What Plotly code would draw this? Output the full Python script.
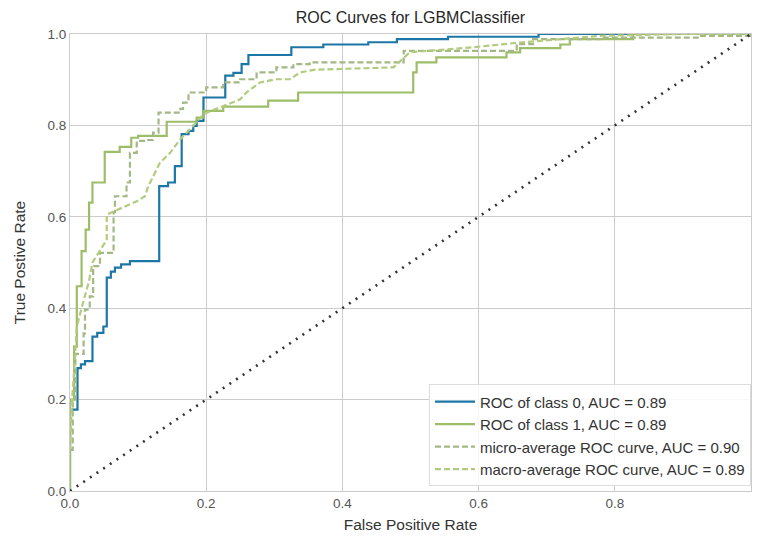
import plotly.graph_objects as go

# ---- data ----
class0_fpr = [0, 0, 0.011, 0.016, 0.022, 0.033, 0.040, 0.049, 0.054, 0.060, 0.066, 0.075, 0.088,
              0.131, 0.144, 0.154, 0.164, 0.174, 0.181, 0.186, 0.196, 0.228, 0.240, 0.252, 0.262,
              0.325, 0.372, 0.438, 0.480, 0.555, 0.688, 1.0]
class0_tpr = [0, 0.178, 0.269, 0.277, 0.284, 0.338, 0.346, 0.360, 0.467, 0.480, 0.489, 0.496, 0.503,
              0.667, 0.675, 0.711, 0.781, 0.788, 0.799, 0.810, 0.861, 0.909, 0.915, 0.934, 0.954,
              0.971, 0.977, 0.982, 0.989, 0.994, 1.0, 1.0]

class1_fpr = [0, 0, 0.006, 0.010, 0.017, 0.023, 0.028, 0.033, 0.051, 0.073, 0.090, 0.100, 0.142,
              0.186, 0.196, 0.225, 0.291, 0.335, 0.504, 0.509, 0.538, 0.641, 0.661, 0.720, 0.734,
              0.827, 1.0]
class1_tpr = [0, 0.200, 0.316, 0.448, 0.525, 0.572, 0.631, 0.675, 0.742, 0.753, 0.773, 0.777, 0.808,
              0.817, 0.832, 0.841, 0.854, 0.872, 0.916, 0.938, 0.949, 0.960, 0.969, 0.977, 0.989,
              1.0, 1.0]

micro_fpr = [0, 0.004, 0.008, 0.020, 0.022, 0.029, 0.034, 0.044, 0.064, 0.064, 0.066, 0.083, 0.088,
             0.088, 0.098, 0.113, 0.122, 0.130, 0.162, 0.166, 0.174, 0.200, 0.225, 0.250, 0.274,
             0.303, 0.328, 0.352, 0.480, 0.490, 0.656, 0.680, 0.780, 0.925, 1.0]
micro_tpr = [0.09, 0.20, 0.30, 0.345, 0.397, 0.426, 0.492, 0.521, 0.525, 0.610, 0.645, 0.675, 0.682,
             0.740, 0.766, 0.768, 0.784, 0.828, 0.836, 0.850, 0.872, 0.883, 0.894, 0.901, 0.916,
             0.927, 0.934, 0.938, 0.938, 0.963, 0.978, 0.989, 0.992, 0.996, 1.0]

macro_fpr = [0, 0.003, 0.006, 0.010, 0.017, 0.023, 0.028, 0.033, 0.045, 0.054, 0.054, 0.075, 0.098,
             0.110, 0.115, 0.132, 0.147, 0.162, 0.171, 0.181, 0.196, 0.215, 0.230, 0.250, 0.259,
             0.279, 0.303, 0.323, 0.338, 0.360, 0.475, 0.499, 0.592, 0.665, 0.724, 0.778, 0.900, 1.0]
macro_tpr = [0.09, 0.20, 0.26, 0.36, 0.40, 0.43, 0.46, 0.50, 0.53, 0.55, 0.605, 0.618, 0.634,
             0.645, 0.667, 0.718, 0.740, 0.770, 0.784, 0.799, 0.825, 0.836, 0.846, 0.857, 0.872,
             0.894, 0.901, 0.901, 0.916, 0.922, 0.927, 0.960, 0.971, 0.982, 0.989, 0.996, 1.0, 1.0]

diag = [0, 1]

names = ["ROC of class 0, AUC = 0.89", "ROC of class 1, AUC = 0.89",
         "micro-average ROC curve, AUC = 0.90", "macro-average ROC curve, AUC = 0.89"]
tick_vals = [0, 0.2, 0.4, 0.6, 0.8, 1.0]
tick_text = ["0.0", "0.2", "0.4", "0.6", "0.8", "1.0"]

FONT = "Liberation Sans, Arial, sans-serif"

fig = go.Figure()
fig.add_trace(go.Scatter(x=class0_fpr, y=class0_tpr, mode="lines", name=names[0], line_shape="hv",
                         line=dict(color="#1c77a6", width=2.2)))
fig.add_trace(go.Scatter(x=class1_fpr, y=class1_tpr, mode="lines", name=names[1], line_shape="hv",
                         line=dict(color="#9dbd68", width=2.2)))
fig.add_trace(go.Scatter(x=micro_fpr, y=micro_tpr, mode="lines", name=names[2], line_shape="hv",
                         line=dict(color="#a3b885", width=2.2, dash="6px,3px")))
fig.add_trace(go.Scatter(x=macro_fpr, y=macro_tpr, mode="lines", name=names[3],
                         line=dict(color="#b2cb7e", width=2.2, dash="6px,3px")))
fig.add_trace(go.Scatter(x=diag, y=diag, mode="lines", showlegend=False,
                         line=dict(color="#333333", width=2.6, dash="2px,6px")))

axis_common = dict(range=[0, 1], tickvals=tick_vals, ticktext=tick_text,
                   showgrid=True, gridcolor="#cccccc", gridwidth=1,
                   showline=True, linecolor="#cccccc", linewidth=1, mirror=True,
                   zeroline=False, ticks="", automargin=False,
                   tickfont=dict(size=13.5, color="#555555", family=FONT),
                   title_font=dict(size=15.5, color="#333333", family=FONT))

fig.update_xaxes(title_text="False Positive Rate", title_standoff=10, **axis_common)
fig.update_yaxes(title_text="True Postive Rate", title_standoff=18, **axis_common)

fig.update_layout(
    width=746, height=525,
    margin=dict(l=62, r=3, t=26, b=42),
    paper_bgcolor="white", plot_bgcolor="white",
    font=dict(family=FONT, color="#333333"),
    title=dict(text="ROC Curves for LGBMClassifier", x=0.5, xref="paper", xanchor="center",
               yref="container", y=0.983, yanchor="middle",
               font=dict(size=16, color="#262626", family=FONT)),
    legend=dict(x=1.0, y=0.01, xanchor="right", yanchor="bottom",
                bgcolor="rgba(255,255,255,0.85)", bordercolor="#dddddd", borderwidth=1,
                font=dict(size=15, color="#333333", family=FONT), tracegroupgap=0,
                itemwidth=40),
    showlegend=True,
)

fig.write_html("out.html")
